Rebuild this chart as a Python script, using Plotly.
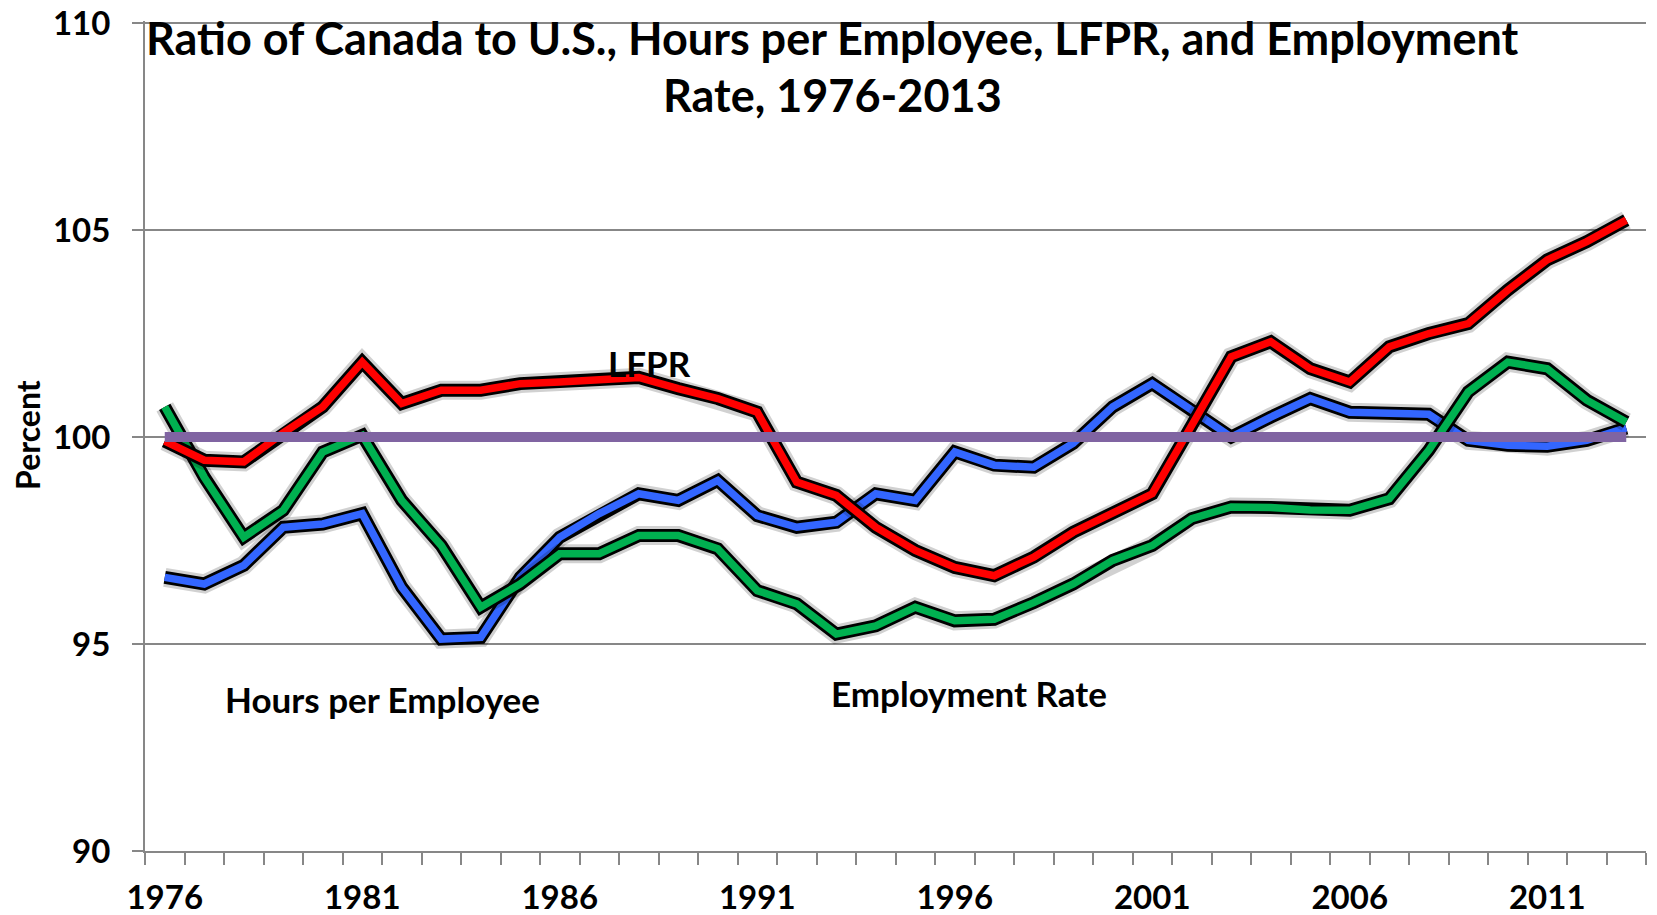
import plotly.graph_objects as go

years = list(range(1976, 2014))
hours_per_employee = [96.61, 96.45, 96.90, 97.82, 97.90, 98.15, 96.37, 95.12, 95.16, 96.61,
                      97.58, 98.15, 98.63, 98.47, 98.95, 98.10, 97.82, 97.94, 98.63, 98.47,
                      99.64, 99.32, 99.27, 99.85, 100.73, 101.29, 100.65, 100.00, 100.48, 100.93,
                      100.60, 100.57, 100.55, 99.92, 99.80, 99.78, 99.92, 100.22]
lfpr = [99.90, 99.44, 99.40, 100.10, 100.73, 101.81, 100.81, 101.13, 101.13, 101.29,
        101.33, 101.37, 101.44, 101.17, 100.93, 100.60, 98.91, 98.59, 97.82, 97.26,
        96.85, 96.65, 97.10, 97.70, 98.15, 98.63, 100.28, 101.94, 102.30, 101.65,
        101.33, 102.18, 102.50, 102.74, 103.55, 104.28, 104.72, 105.24]
employment_rate = [100.73, 99.03, 97.58, 98.23, 99.64, 100.04, 98.47, 97.38, 95.89, 96.45,
                   97.18, 97.18, 97.62, 97.62, 97.30, 96.29, 95.97, 95.24, 95.44, 95.89,
                   95.56, 95.60, 96.00, 96.45, 97.02, 97.38, 98.03, 98.31, 98.30, 98.24,
                   98.23, 98.51, 99.68, 101.09, 101.81, 101.65, 100.89, 100.36]
parity = [100.0] * len(years)

y_ticks = [90, 95, 100, 105, 110]
x_tick_years = [1976, 1981, 1986, 1991, 1996, 2001, 2006, 2011]

FONT = "Lato, 'Open Sans', sans-serif"

fig = go.Figure()

def add_outlined(name, values, color):
    fig.add_trace(go.Scatter(x=years, y=values, mode="lines", showlegend=False, hoverinfo="skip",
                             line=dict(color="rgba(0,0,0,0.18)", width=19)))
    fig.add_trace(go.Scatter(x=years, y=values, mode="lines", showlegend=False, hoverinfo="skip",
                             line=dict(color="#000000", width=13)))
    fig.add_trace(go.Scatter(x=years, y=values, mode="lines", name=name, showlegend=False,
                             line=dict(color=color, width=7.5)))

add_outlined("Hours per Employee", hours_per_employee, "#3366FF")
add_outlined("Employment Rate", employment_rate, "#00B050")
add_outlined("LFPR", lfpr, "#FF0000")
fig.add_trace(go.Scatter(x=years, y=parity, mode="lines", name="Parity", showlegend=False,
                         line=dict(color="#8064A2", width=10)))

boundaries = [y - 0.5 for y in years] + [years[-1] + 0.5]

fig.update_xaxes(
    range=[years[0] - 0.5, years[-1] + 0.5], automargin=False,
    tickmode="array", tickvals=x_tick_years, ticktext=[str(v) for v in x_tick_years],
    ticks="", showgrid=False, zeroline=False,
    showline=True, linecolor="#878787", linewidth=2,
    tickfont=dict(family=FONT, size=33, color="#000000", weight="bold"),
    ticklabelstandoff=16, ticklabeloverflow="allow",
    minor=dict(tickmode="array", tickvals=boundaries, ticks="outside", ticklen=12,
               tickcolor="#878787", tickwidth=1.5, showgrid=False),
)
fig.update_yaxes(
    range=[90, 110.05], automargin=False,
    tickmode="array", tickvals=y_ticks, ticktext=[str(v) for v in y_ticks],
    showgrid=True, gridcolor="#878787", gridwidth=2, zeroline=False,
    showline=True, linecolor="#878787", linewidth=2,
    ticks="outside", ticklen=11, tickcolor="#878787", tickwidth=2,
    tickfont=dict(family=FONT, size=33, color="#000000", weight="bold"),
    ticklabelstandoff=15, ticklabeloverflow="allow",
)

title_font = dict(family=FONT, size=45, color="#000000", weight="bold")
fig.add_annotation(x=0.4577, y=0.9795, xref="paper", yref="paper",
                   text="Ratio of Canada to U.S., Hours per Employee, LFPR, and Employment",
                   showarrow=False, font=title_font, xanchor="center", yanchor="middle")
fig.add_annotation(x=0.4577, y=0.9106, xref="paper", yref="paper",
                   text="Rate, 1976-2013",
                   showarrow=False, font=title_font, xanchor="center", yanchor="middle")

# y-axis title as a rotated annotation
fig.add_annotation(x=-0.0780, y=100.05, xref="paper", yref="y", text="Percent", textangle=-90,
                   showarrow=False, xanchor="center", yanchor="middle", borderpad=0,
                   font=dict(family=FONT, size=32, color="#000000", weight="bold"))

label_font = dict(family=FONT, size=35, color="#000000", weight="bold")
fig.add_annotation(x=1988.26, y=101.8, text="LFPR", showarrow=False, font=label_font)
fig.add_annotation(x=1981.5, y=93.67, text="Hours per Employee", showarrow=False, font=label_font)
fig.add_annotation(x=1996.36, y=93.82, text="Employment Rate", showarrow=False, font=label_font)

fig.update_layout(
    width=1657, height=915,
    margin=dict(l=145, r=11, t=21, b=64),
    paper_bgcolor="#FFFFFF", plot_bgcolor="#FFFFFF",
    font=dict(family=FONT, color="#000000"),
    showlegend=False,
)

# remove the default page margin so the figure fills the window exactly; hide the modebar
fig.write_html("out.html",
               config={"displayModeBar": False},
               post_script="document.body.style.margin='0px';document.body.style.overflow='hidden';")
